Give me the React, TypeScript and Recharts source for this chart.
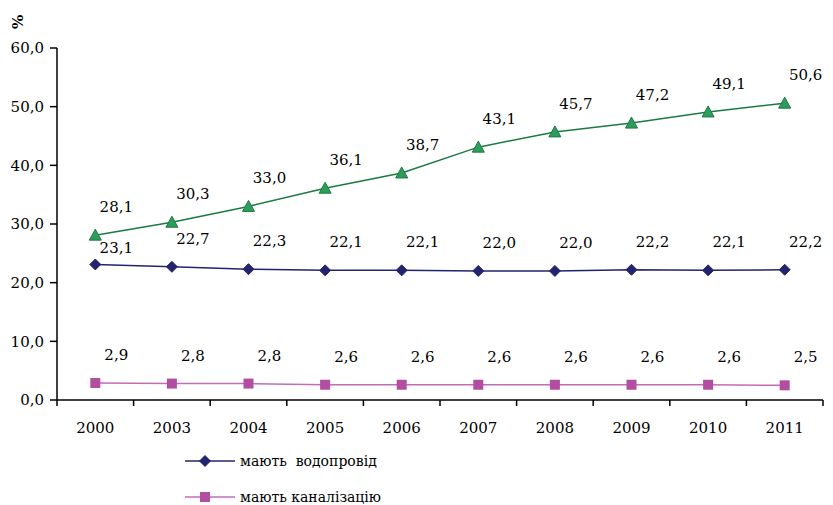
import React from "react";
import {
  LineChart,
  Line,
  XAxis,
  YAxis,
} from "recharts";

const years = ["2000", "2003", "2004", "2005", "2006", "2007", "2008", "2009", "2010", "2011"];
const vodoprovid = [23.1, 22.7, 22.3, 22.1, 22.1, 22.0, 22.0, 22.2, 22.1, 22.2];
const kanalizatsiia = [2.9, 2.8, 2.8, 2.6, 2.6, 2.6, 2.6, 2.6, 2.6, 2.5];
const third = [28.1, 30.3, 33.0, 36.1, 38.7, 43.1, 45.7, 47.2, 49.1, 50.6];
const yTicks = [0, 10, 20, 30, 40, 50, 60];

const data = years.map((y, i) => ({
  year: y,
  vod: vodoprovid[i],
  kan: kanalizatsiia[i],
  third: third[i],
}));

const NAVY = "#24246e";
const PINK = "#b24ea2";
const PINK_LINE = "#c26cb8";
const GREEN = "#2e9c5a";
const GREEN_DARK = "#1b7a40";
// only DejaVu Serif renders as a serif face in the sandbox
const FONT = "DejaVu Serif";

const W = 833;
const H = 505;
const LEFT = 57;
const RIGHT = 823;
const BAND = (RIGHT - LEFT) / years.length;

const fmt = (v: number) => v.toFixed(1).replace(".", ",");

const Diamond = (props: any) => {
  const { cx, cy, fill } = props;
  if (cx == null || cy == null) return null;
  const r = 5.5;
  return (
    <path
      d={`M${cx},${cy - r}L${cx + r},${cy}L${cx},${cy + r}L${cx - r},${cy}Z`}
      fill={fill}
      stroke={fill}
    />
  );
};

const Square = (props: any) => {
  const { cx, cy, fill } = props;
  if (cx == null || cy == null) return null;
  return <rect x={cx - 5} y={cy - 5} width={10} height={10} fill={fill} />;
};

const Triangle = (props: any) => {
  const { cx, cy } = props;
  if (cx == null || cy == null) return null;
  return (
    <path
      d={`M${cx},${cy - 6}L${cx + 6},${cy + 5}L${cx - 6},${cy + 5}Z`}
      fill={GREEN}
      stroke={GREEN_DARK}
      strokeWidth={1}
    />
  );
};

const ValueLabel = (props: any) => {
  const { x, y, value, index, lift } = props;
  const dy = lift != null && index === 0 ? lift : 23;
  return (
    <text x={x + 21} y={y - dy} textAnchor="middle" fontFamily={FONT} fontSize={15} fill="#000">
      {fmt(value)}
    </text>
  );
};

const XTick = (props: any) => {
  const { x, y, payload, index } = props;
  return (
    <g>
      <line x1={x - BAND / 2} x2={x - BAND / 2} y1={y} y2={y + 6} stroke="#000" strokeWidth={1.5} />
      {index === years.length - 1 && (
        <line x1={x + BAND / 2} x2={x + BAND / 2} y1={y} y2={y + 6} stroke="#000" strokeWidth={1.5} />
      )}
      <text x={x} y={y + 33} textAnchor="middle" fontFamily={FONT} fontSize={15} fill="#000">
        {payload.value}
      </text>
    </g>
  );
};

const legendItems = [
  { label: "мають  водопровід", color: NAVY, line: NAVY, kind: "diamond" },
  { label: "мають каналізацію", color: PINK, line: PINK_LINE, kind: "square" },
];

const ChartLegend = () => (
  <svg width={260} height={60} style={{ position: "absolute", left: 185, top: 450 }}>
    {legendItems.map((it, i) => {
      const cy = 11 + i * 36;
      return (
        <g key={it.label}>
          <line x1={0} x2={50} y1={cy} y2={cy} stroke={it.line} strokeWidth={1.5} />
          {it.kind === "diamond" ? (
            <Diamond cx={20} cy={cy} fill={it.color} />
          ) : (
            <Square cx={20} cy={cy} fill={it.color} />
          )}
          <text x={55} y={cy + 5} fontFamily={FONT} fontSize={14} fill="#000" style={{ whiteSpace: "pre" }}>
            {it.label}
          </text>
        </g>
      );
    })}
  </svg>
);

export default function App() {
  return (
    <div style={{ position: "absolute", left: 0, top: 0, width: W, height: H, background: "#fff" }}>
      <LineChart
        width={W}
        height={H}
        data={data}
        margin={{ top: 48, right: W - RIGHT, left: 0, bottom: 75 }}
      >
        <XAxis
          dataKey="year"
          tick={<XTick />}
          tickLine={false}
          tickSize={0}
          tickMargin={0}
          height={30}
          interval={0}
          padding={{ left: BAND / 2, right: BAND / 2 }}
          axisLine={{ stroke: "#000", strokeWidth: 1.5 }}
        />
        <YAxis
          width={LEFT}
          domain={[0, 60]}
          ticks={yTicks}
          tickFormatter={fmt}
          tick={{ fill: "#000", fontFamily: FONT, fontSize: 15 }}
          tickLine={{ stroke: "#000", strokeWidth: 1.5 }}
          tickSize={7}
          tickMargin={6}
          axisLine={{ stroke: "#000", strokeWidth: 1.5 }}
          label={{
            value: "%",
            angle: -90,
            position: "insideTopLeft",
            offset: 0,
            dx: 12,
            dy: -19,
            style: { fontFamily: FONT, fontSize: 15, fontWeight: "bold", fill: "#000" },
          }}
        />
        <Line
          dataKey="third"
          stroke={GREEN_DARK}
          strokeWidth={1.5}
          dot={<Triangle />}
          label={<ValueLabel />}
          isAnimationActive={false}
        />
        <Line
          dataKey="vod"
          stroke={NAVY}
          strokeWidth={1.5}
          dot={<Diamond fill={NAVY} />}
          label={<ValueLabel lift={11} />}
          isAnimationActive={false}
        />
        <Line
          dataKey="kan"
          stroke={PINK_LINE}
          strokeWidth={1.5}
          dot={<Square fill={PINK} />}
          label={<ValueLabel />}
          isAnimationActive={false}
        />
      </LineChart>
      <ChartLegend />
    </div>
  );
}
